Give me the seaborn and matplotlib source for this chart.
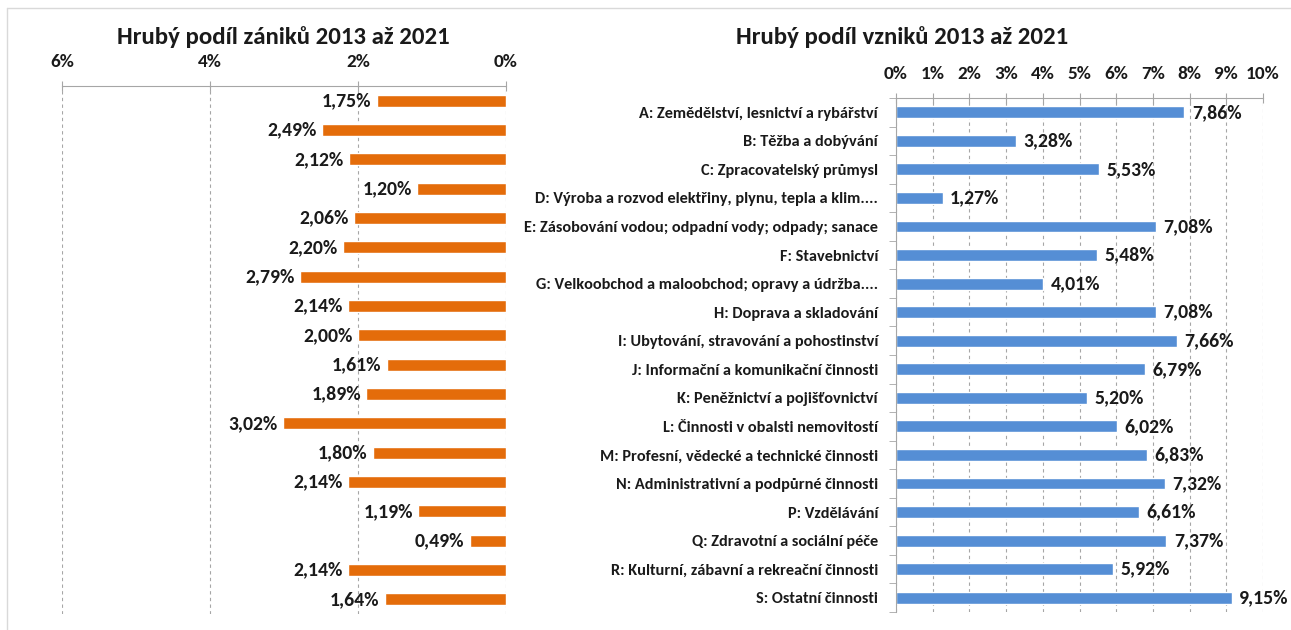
import matplotlib
matplotlib.use('Agg')
import matplotlib.pyplot as plt
from matplotlib.ticker import FuncFormatter, FixedLocator
import seaborn as sns
import numpy as np

sns.set_style('white')
plt.rcParams['font.family'] = ['Carlito', 'DejaVu Sans']

# ===== DATA =====
categories = [
    'A: Zemědělství, lesnictví a rybářství',
    'B: Těžba a dobývání',
    'C: Zpracovatelský průmysl',
    'D: Výroba a rozvod elektřiny, plynu, tepla a klim....',
    'E: Zásobování vodou; odpadní vody; odpady; sanace',
    'F: Stavebnictví',
    'G: Velkoobchod a maloobchod; opravy a údržba....',
    'H: Doprava a skladování',
    'I: Ubytování, stravování a pohostinství',
    'J: Informační a komunikační činnosti',
    'K: Peněžnictví a pojišťovnictví',
    'L: Činnosti v obalsti nemovitostí',
    'M: Profesní, vědecké a technické činnosti',
    'N: Administrativní a podpůrné činnosti',
    'P: Vzdělávání',
    'Q: Zdravotní a sociální péče',
    'R: Kulturní, zábavní a rekreační činnosti',
    'S: Ostatní činnosti',
]
zaniky = [1.75, 2.49, 2.12, 1.20, 2.06, 2.20, 2.79, 2.14, 2.00,
          1.61, 1.89, 3.02, 1.80, 2.14, 1.19, 0.49, 2.14, 1.64]
vzniky = [7.86, 3.28, 5.53, 1.27, 7.08, 5.48, 4.01, 7.08, 7.66,
          6.79, 5.20, 6.02, 6.83, 7.32, 6.61, 7.37, 5.92, 9.15]
left_title = 'Hrubý podíl zániků 2013 až 2021'
right_title = 'Hrubý podíl vzniků 2013 až 2021'

ORANGE = '#E46C0A'
BLUE = '#558ED5'
GRID = '#A6A6A6'
INK = '#1a1a1a'

W, H = 1291, 630
fig = plt.figure(figsize=(W / 100, H / 100), dpi=100)

def px_axes(x0, x1, y0, y1):
    return fig.add_axes([x0 / W, 1 - y1 / H, (x1 - x0) / W, (y1 - y0) / H])

ax_l = px_axes(62, 506, 86, 614)
ax_r = px_axes(896, 1263, 98, 612)

pct = FuncFormatter(lambda v, _: f'{v:.0f}%')
fmt_val = lambda v: f'{v:.2f}'.replace('.', ',') + '%'

# ===== LEFT: zániky =====
sns.barplot(x=zaniky, y=categories, ax=ax_l, color=ORANGE, width=0.42,
            saturation=1, orient='h')
ax_l.set_xlim(6, 0)
ax_l.set_ylim(len(categories) - 0.5, -0.5)
ax_l.xaxis.set_major_locator(FixedLocator([0, 2, 4, 6]))
ax_l.xaxis.set_major_formatter(pct)
ax_l.set_yticks([])
ax_l.set_ylabel('')
for i, v in enumerate(zaniky):
    ax_l.text(v + 0.07, i, fmt_val(v), ha='right', va='center',
              fontsize=14.2, fontweight='bold', color=INK)
fig.text(283 / W, 1 - 37 / H, left_title, ha='center', va='center',
         fontsize=17.9, fontweight='bold', color=INK)

# ===== RIGHT: vzniky =====
sns.barplot(x=vzniky, y=categories, ax=ax_r, color=BLUE, width=0.42,
            saturation=1, orient='h')
ax_r.set_xlim(0, 10)
ax_r.set_ylim(len(categories) - 0.5, -0.5)
ax_r.xaxis.set_major_locator(FixedLocator(np.arange(0, 11, 1)))
ax_r.xaxis.set_major_formatter(pct)
ax_r.set_ylabel('')
for i, v in enumerate(vzniky):
    ax_r.text(v + 0.2, i, fmt_val(v), ha='left', va='center',
              fontsize=14.2, fontweight='bold', color=INK)
ax_r.yaxis.set_minor_locator(FixedLocator(np.arange(-0.5, len(categories), 1)))
ax_r.tick_params(axis='y', which='minor', length=5, color=GRID, left=True)
ax_r.tick_params(axis='y', which='major', length=0, pad=13, labelsize=11.7)
for lab in ax_r.get_yticklabels():
    lab.set_fontweight('bold')
    lab.set_color(INK)
fig.text(902 / W, 1 - 37 / H, right_title, ha='center', va='center',
         fontsize=17.9, fontweight='bold', color=INK)

for ax in (ax_l, ax_r):
    ax.xaxis.tick_top()
    ax.tick_params(axis='x', which='major', top=True, bottom=False, length=7,
                   direction='inout', color=GRID, labelsize=13.9, pad=8,
                   labelcolor=INK)
    for lab in ax.get_xticklabels():
        lab.set_fontweight('bold')
    ax.grid(axis='x', linestyle=(0, (3, 3)), color=GRID, linewidth=0.8)
    ax.set_axisbelow(True)
    for s in ('right', 'bottom'):
        ax.spines[s].set_visible(False)
    ax.spines['top'].set_color(GRID)

ax_l.spines['left'].set_visible(False)
ax_r.spines['left'].set_color(GRID)

# frame lines of the original sheet
fig.add_artist(plt.Line2D([7 / W, 1], [1 - 8 / H, 1 - 8 / H], color='#D9D9D9', lw=1))
fig.add_artist(plt.Line2D([7 / W, 7 / W], [0, 1 - 8 / H], color='#D9D9D9', lw=1))

fig.savefig('out.png', dpi=100)
